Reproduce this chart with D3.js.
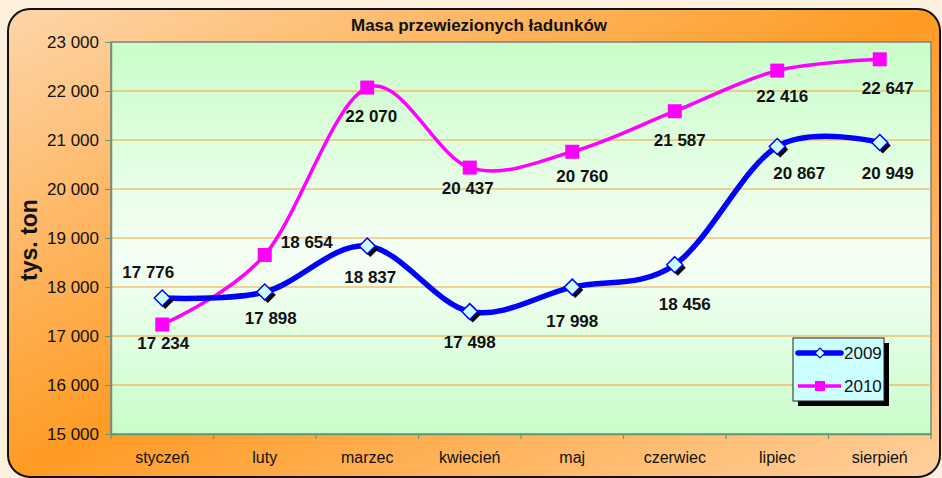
<!DOCTYPE html>
<html>
<head>
<meta charset="utf-8">
<script src="https://cdn.jsdelivr.net/npm/d3@7"></script>
<style>
  body { margin: 0; background: #fcf0dc; }
  svg { display: block; font-family: "Liberation Sans", Arial, sans-serif; }
</style>
</head>
<body>
<div id="chart"></div>
<script>
var months = ["styczeń", "luty", "marzec", "kwiecień", "maj", "czerwiec", "lipiec", "sierpień"];
var values2009 = [17776, 17898, 18837, 17498, 17998, 18456, 20867, 20949];
var values2010 = [17234, 18654, 22070, 20437, 20760, 21587, 22416, 22647];
var yTicks = [15000, 16000, 17000, 18000, 19000, 20000, 21000, 22000, 23000];
var seriesNames = ["2009", "2010"];

// hand placed label offsets, like the original sheet
var off2009 = [[-14, -26], [6, 26], [3, 31], [0, 30], [0, 34], [10, 39], [22, 26], [8, 30]];
var off2010 = [[1, 18], [42, -13], [4, 28], [-2, 20], [10, 24], [5, 29], [5, 25], [8, 29]];

var W = 942, H = 478;
var margin = { top: 42, right: 11, bottom: 44, left: 111 };
var width = W - margin.left - margin.right,
    height = H - margin.top - margin.bottom;

var fmt = function(v) { return d3.format(",")(v).replace(/,/g, " "); };

var svg = d3.select("#chart").append("svg")
    .attr("width", W).attr("height", H);

var defs = svg.append("defs");
var g1 = defs.append("linearGradient").attr("id", "frameGrad")
    .attr("x1", 0).attr("y1", 0).attr("x2", 1).attr("y2", 1);
g1.append("stop").attr("offset", "0%").attr("stop-color", "#fdd6aa");
g1.append("stop").attr("offset", "50%").attr("stop-color", "#ff9b24");
g1.append("stop").attr("offset", "100%").attr("stop-color", "#ffd09e");

var g2 = defs.append("linearGradient").attr("id", "plotGrad")
    .attr("x1", 0).attr("y1", 0).attr("x2", 0).attr("y2", 1);
g2.append("stop").attr("offset", "0%").attr("stop-color", "#c9fdc9");
g2.append("stop").attr("offset", "55%").attr("stop-color", "#f6fff6");
g2.append("stop").attr("offset", "100%").attr("stop-color", "#c9fdc9");

svg.append("rect")
    .attr("x", 8).attr("y", 9).attr("width", 932).attr("height", 468)
    .attr("rx", 22).attr("ry", 22)
    .attr("fill", "url(#frameGrad)")
    .attr("stroke", "#111").attr("stroke-width", 2);

svg.append("text")
    .attr("x", 479).attr("y", 31)
    .attr("text-anchor", "middle")
    .attr("font-size", "17px").attr("font-weight", "bold")
    .attr("fill", "#111")
    .text("Masa przewiezionych ładunków");

var chart = svg.append("g")
    .attr("transform", "translate(" + margin.left + "," + margin.top + ")");

var xScale = d3.scaleBand().domain(months).range([0, width]);
var yScale = d3.scaleLinear().domain([15000, 23000]).range([height, 0]);
var xc = function(i) { return xScale(months[i]) + xScale.bandwidth() / 2; };

chart.append("rect")
    .attr("width", width).attr("height", height)
    .attr("fill", "url(#plotGrad)")
    .attr("stroke", "#808080").attr("stroke-width", 1.5);

chart.selectAll(".grid")
    .data(yTicks.slice(1, -1))
    .enter().append("line")
    .attr("class", "grid")
    .attr("x1", 0).attr("x2", width)
    .attr("y1", function(d) { return yScale(d); })
    .attr("y2", function(d) { return yScale(d); })
    .attr("stroke", "#f2a43a").attr("stroke-width", 1);

var yAxis = chart.append("g")
    .call(d3.axisLeft(yScale).tickValues(yTicks).tickSize(6).tickSizeOuter(0).tickFormat(fmt));
yAxis.select(".domain").attr("stroke", "#5e9c78").attr("stroke-width", 1.5);
yAxis.selectAll(".tick line").attr("stroke", "#5e9c78");
yAxis.selectAll(".tick text").attr("font-size", "17px").attr("fill", "#111")
    .attr("x", -12).attr("font-family", "Liberation Sans, Arial, sans-serif");

var xAxis = chart.append("g")
    .attr("transform", "translate(0," + height + ")")
    .call(d3.axisBottom(xScale).tickSize(0).tickSizeOuter(0));
xAxis.select(".domain").attr("stroke", "#5e9c78").attr("stroke-width", 1.5);
xAxis.selectAll(".tick text").attr("font-size", "16px").attr("fill", "#111")
    .attr("dy", "1.6em").attr("font-family", "Liberation Sans, Arial, sans-serif");

// boundary ticks between categories
chart.selectAll(".xtick")
    .data(d3.range(months.length + 1))
    .enter().append("line")
    .attr("x1", function(i) { return i * xScale.bandwidth(); })
    .attr("x2", function(i) { return i * xScale.bandwidth(); })
    .attr("y1", height).attr("y2", height + 5)
    .attr("stroke", "#5e9c78").attr("stroke-width", 1.2);

svg.append("text")
    .attr("transform", "translate(37,240) rotate(-90)")
    .attr("text-anchor", "middle")
    .attr("font-size", "23px").attr("font-weight", "bold")
    .attr("fill", "#111")
    .text("tys. ton");

var line = d3.line()
    .x(function(d, i) { return xc(i); })
    .y(function(d) { return yScale(d); })
    .curve(d3.curveCardinal);

chart.append("path").datum(values2010)
    .attr("d", line).attr("fill", "none")
    .attr("stroke", "#ff00ff").attr("stroke-width", 3.5);

chart.append("path").datum(values2009)
    .attr("d", line).attr("fill", "none")
    .attr("stroke", "#0000ff").attr("stroke-width", 5.5);

var diamond = "M0,-8L8,0L0,8L-8,0Z";

chart.selectAll(".m2010")
    .data(values2010)
    .enter().append("rect")
    .attr("x", function(d, i) { return xc(i) - 7; })
    .attr("y", function(d) { return yScale(d) - 7; })
    .attr("width", 14).attr("height", 14)
    .attr("fill", "#ff00ff");

var m2009 = chart.selectAll(".m2009")
    .data(values2009)
    .enter().append("g")
    .attr("transform", function(d, i) { return "translate(" + xc(i) + "," + yScale(d) + ")"; });
m2009.append("path").attr("d", diamond)
    .attr("transform", "translate(3,3)").attr("fill", "#000");
m2009.append("path").attr("d", diamond)
    .attr("fill", "#ccffff").attr("stroke", "#0000ff").attr("stroke-width", 1.5);

function addLabels(vals, offs) {
    chart.selectAll(null)
        .data(vals)
        .enter().append("text")
        .attr("x", function(d, i) { return xc(i) + offs[i][0]; })
        .attr("y", function(d, i) { return yScale(d) + offs[i][1]; })
        .attr("dy", "0.36em")
        .attr("text-anchor", "middle")
        .attr("font-size", "17px").attr("font-weight", "bold")
        .attr("fill", "#111")
        .text(fmt);
}
addLabels(values2009, off2009);
addLabels(values2010, off2010);

// legend
var leg = svg.append("g").attr("transform", "translate(793,338)");
leg.append("rect").attr("x", 5).attr("y", 5).attr("width", 91).attr("height", 63).attr("fill", "#000");
leg.append("rect").attr("width", 91).attr("height", 63)
    .attr("fill", "#ccffff").attr("stroke", "#222").attr("stroke-width", 1);

var ly = [15, 48];
leg.append("line").attr("x1", 5).attr("x2", 48).attr("y1", ly[0]).attr("y2", ly[0])
    .attr("stroke", "#0000ff").attr("stroke-width", 5.5).attr("stroke-linecap", "round");
leg.append("path").attr("d", "M0,-5L5,0L0,5L-5,0Z")
    .attr("transform", "translate(27," + ly[0] + ")")
    .attr("fill", "#ccffff").attr("stroke", "#0000ff").attr("stroke-width", 1.2);
leg.append("line").attr("x1", 5).attr("x2", 48).attr("y1", ly[1]).attr("y2", ly[1])
    .attr("stroke", "#ff00ff").attr("stroke-width", 3.5);
leg.append("rect").attr("x", 22).attr("y", ly[1] - 5).attr("width", 10).attr("height", 10)
    .attr("fill", "#ff00ff");

leg.selectAll(".lt")
    .data(seriesNames)
    .enter().append("text")
    .attr("x", 51)
    .attr("y", function(d, i) { return ly[i]; })
    .attr("dy", "0.36em")
    .attr("font-size", "17px").attr("fill", "#111")
    .text(function(d) { return d; });
</script>
</body>
</html>
